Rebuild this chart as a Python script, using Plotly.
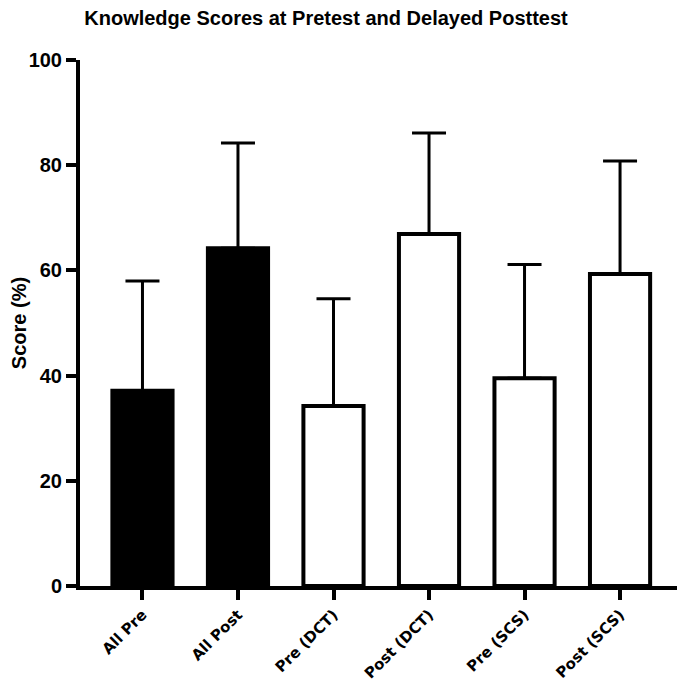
import plotly.graph_objects as go

categories = ["All Pre", "All Post", "Pre (DCT)", "Post (DCT)", "Pre (SCS)", "Post (SCS)"]
means = [37.1, 64.2, 34.2, 66.9, 39.5, 59.3]
sd_upper = [20.9, 20.0, 20.4, 19.2, 21.6, 21.5]
fill_colors = ["black", "black", "white", "white", "white", "white"]
y_ticks = [0, 20, 40, 60, 80, 100]

NARROW = "Liberation Sans Narrow, Arial Narrow, Liberation Sans, Arial, sans-serif"
WIDE = "DejaVu Sans, Verdana, Arial, sans-serif"

fig = go.Figure()
fig.add_trace(go.Bar(
    x=categories,
    y=means,
    width=0.63,
    marker=dict(color=fill_colors, line=dict(color="black", width=4)),
    error_y=dict(type="data", array=sd_upper, arrayminus=[0] * len(means),
                 symmetric=False, color="black", thickness=3, width=17),
    showlegend=False,
))

fig.update_layout(
    width=677, height=678, autosize=False,
    margin=dict(l=72, r=0, t=52, b=100, pad=0),
    plot_bgcolor="white", paper_bgcolor="white",
    title=dict(text="Knowledge Scores at Pretest and Delayed Posttest",
               x=318 / 677, xanchor="center", xref="container",
               y=1 - 3 / 678, yanchor="top", yref="container",
               font=dict(family=NARROW, size=20, color="black", weight="bold")),
    xaxis=dict(
        range=[-0.654, 5.68], automargin=False,
        showline=True, linewidth=4, linecolor="black",
        ticks="outside", ticklen=10, tickwidth=4, tickcolor="black",
        tickangle=-45, showgrid=False, zeroline=False,
        tickfont=dict(family=WIDE, size=15, color="black", weight="bold"),
    ),
    yaxis=dict(
        range=[0, 100], tickvals=y_ticks, automargin=False,
        showline=True, linewidth=4, linecolor="black",
        ticks="outside", ticklen=10, tickwidth=4, tickcolor="black",
        showgrid=False, zeroline=False,
        tickfont=dict(family=NARROW, size=20, color="black", weight="bold"),
        title=dict(text="Score (%)", standoff=16,
                   font=dict(family=NARROW, size=20, color="black", weight="bold")),
    ),
)

fig.write_html("out.html")
